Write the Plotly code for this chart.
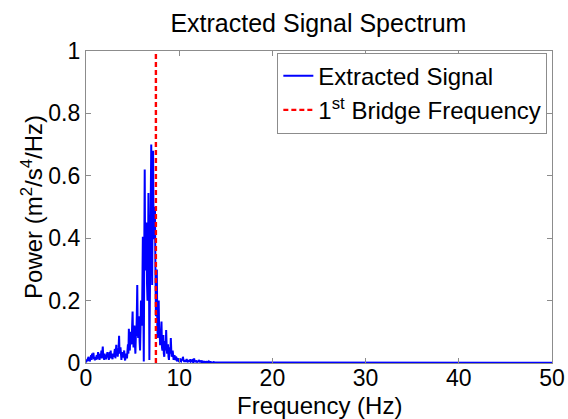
import plotly.graph_objects as go

# Frequency resolution of the spectrum bins (Hz) and spectrum values (0-15 Hz)
df = 0.05
power = [
    0.002, 0.008, 0.004, 0.012, 0.006, 0.02, 0.01, 0.015, 0.005, 0.018, 0.012, 0.025, 0.01, 0.03, 0.015, 0.022, 0.033, 0.012, 0.02, 0.008,
    0.02, 0.01, 0.015, 0.025, 0.012, 0.02, 0.035, 0.015, 0.028, 0.01, 0.018, 0.03, 0.022, 0.04, 0.015, 0.03, 0.053, 0.02, 0.025, 0.01,
    0.03, 0.015, 0.022, 0.012, 0.028, 0.02, 0.035, 0.018, 0.025, 0.01, 0.02, 0.035, 0.025, 0.04, 0.015, 0.03, 0.02, 0.012, 0.03, 0.02,
    0.02, 0.035, 0.045, 0.015, 0.03, 0.058, 0.025, 0.04, 0.02, 0.03, 0.05, 0.087, 0.03, 0.045, 0.05, 0.02, 0.01, 0.03, 0.035, 0.02,
    0.02, 0.03, 0.04, 0.015, 0.008, 0.02, 0.03, 0.02, 0.015, 0.04, 0.06, 0.03, 0.11, 0.05, 0.04, 0.08, 0.1, 0.06, 0.07, 0.12,
    0.165, 0.08, 0.05, 0.1, 0.12, 0.06, 0.03, 0.09, 0.09, 0.15, 0.25, 0.1, 0.08, 0.12, 0.15, 0.07, 0.04, 0.11, 0.2, 0.13,
    0.12, 0.25, 0.405, 0.2, 0.005, 0.35, 0.62, 0.3, 0.3, 0.4, 0.45, 0.25, 0.2, 0.3, 0.545, 0.35, 0.01, 0.2, 0.35, 0.5,
    0.70, 0.45, 0.25, 0.55, 0.68, 0.4, 0.4, 0.5, 0.49, 0.3, 0.15, 0.25, 0.3, 0.12, 0.08, 0.15, 0.2, 0.1, 0.105, 0.06,
    0.06, 0.1, 0.133, 0.05, 0.04, 0.07, 0.09, 0.03, 0.02, 0.05, 0.07, 0.04, 0.106, 0.06, 0.03, 0.05, 0.06, 0.02, 0.01, 0.04,
    0.05, 0.03, 0.08, 0.04, 0.02, 0.03, 0.04, 0.015, 0.01, 0.02, 0.025, 0.01, 0.012, 0.02, 0.018, 0.008, 0.006, 0.012, 0.015, 0.007,
    0.008, 0.012, 0.015, 0.006, 0.005, 0.01, 0.012, 0.008, 0.02, 0.01, 0.006, 0.004, 0.01, 0.006, 0.004, 0.008, 0.013, 0.006, 0.005, 0.003,
    0.01, 0.006, 0.004, 0.008, 0.012, 0.005, 0.006, 0.009, 0.009, 0.004, 0.003, 0.006, 0.015, 0.007, 0.004, 0.003, 0.008, 0.005, 0.003, 0.002,
    0.006, 0.004, 0.01, 0.005, 0.003, 0.002, 0.005, 0.004, 0.008, 0.003, 0.002, 0.003, 0.004, 0.002, 0.006, 0.003, 0.002, 0.001, 0.003, 0.002,
    0.004, 0.003, 0.002, 0.001, 0.005, 0.002, 0.002, 0.001, 0.003, 0.002, 0.001, 0.002, 0.002, 0.001, 0.003, 0.002, 0.001, 0.002, 0.002, 0.001,
    0.001, 0.002, 0.002, 0.001, 0.001, 0.002, 0.001, 0.001, 0.002, 0.001, 0.001, 0.001, 0.001, 0.002, 0.001, 0.001, 0.001, 0.001, 0.001, 0.001,
]
tail_freq = [15.0, 50.0]
tail_power = [0.001, 0.001]

bridge_freq = 7.5
bridge_y = [0, 1]

x_ticks = [0, 10, 20, 30, 40, 50]
y_ticks = [0, 0.2, 0.4, 0.6, 0.8, 1]
y_ticktext = ["0", "0.2", "0.4", "0.6", "0.8", "1"]

freqs = [round(i * df, 3) for i in range(len(power))] + tail_freq
values = power + tail_power

FONT = "Liberation Sans, Arial, sans-serif"
FS = 23

fig = go.Figure()
fig.add_trace(go.Scatter(
    x=freqs, y=values, mode="lines", name="Extracted Signal",
    line=dict(color="#0000ff", width=2),
))
fig.add_trace(go.Scatter(
    x=[bridge_freq, bridge_freq], y=bridge_y, mode="lines",
    name="1<sup>st</sup> Bridge Frequency",
    line=dict(color="#ff0000", width=2.4, dash="5px,3px"),
))

axis_common = dict(
    showgrid=False, zeroline=False, showline=True, linecolor="#8c8c8c", linewidth=1.2,
    mirror="ticks", ticks="inside", ticklen=5, tickcolor="#8c8c8c", automargin=False,
    tickfont=dict(family=FONT, size=FS, color="black"),
)

fig.update_layout(
    width=568, height=419,
    margin=dict(l=86, r=16, t=51, b=56),
    paper_bgcolor="white", plot_bgcolor="white",
    title=dict(text="Extracted Signal Spectrum", x=0.5606, xanchor="center", y=0.945, yanchor="middle",
               font=dict(family=FONT, size=25, color="black")),
    xaxis=dict(range=[0, 50], tickvals=x_ticks, ticktext=[str(v) for v in x_ticks], ticklabelstandoff=-6,
               **axis_common),
    yaxis=dict(range=[0, 1], tickvals=y_ticks, ticktext=y_ticktext,
               **axis_common),
    legend=dict(x=0.99, y=0.995, xanchor="right", yanchor="top",
                bgcolor="white", bordercolor="#8c8c8c", borderwidth=1,
                font=dict(family=FONT, size=24, color="black"),
                tracegroupgap=0, itemwidth=30),
    showlegend=True,
)

# axis titles placed as annotations to match the reference's positions
fig.add_annotation(text="Frequency (Hz)", xref="paper", yref="paper", x=0.5, y=-0.137,
                   xanchor="center", yanchor="middle", showarrow=False,
                   font=dict(family=FONT, size=24, color="black"))
fig.add_annotation(text="Power (m<sup>2</sup>/s<sup>4</sup>/Hz)", xref="paper", yref="paper",
                   x=-0.116, y=0.5, xanchor="center", yanchor="middle", textangle=-90, showarrow=False,
                   font=dict(family=FONT, size=24, color="black"))

fig.write_html("out.html")
